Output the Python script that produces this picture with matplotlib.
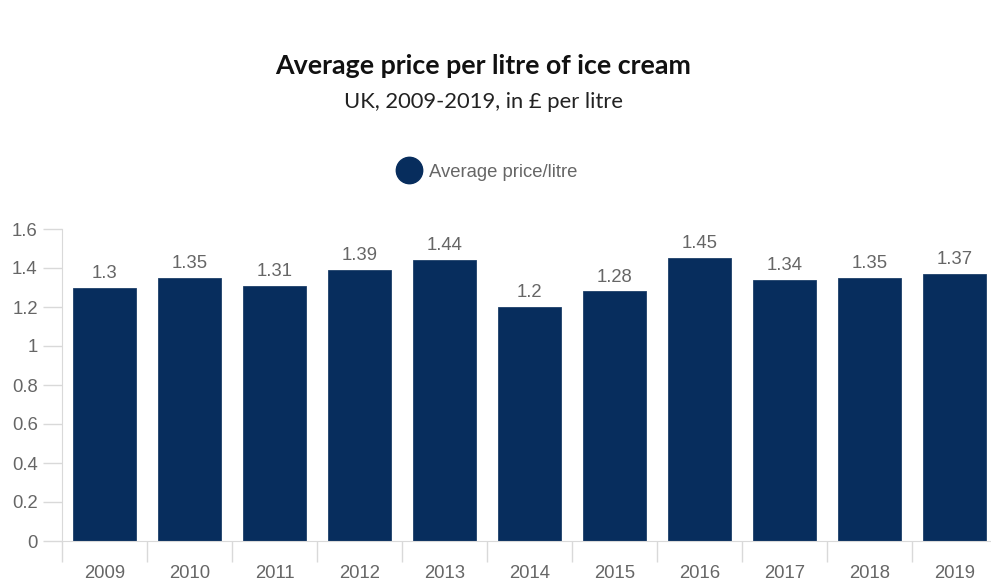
import matplotlib.pyplot as plt
from matplotlib.lines import Line2D

years = ["2009", "2010", "2011", "2012", "2013", "2014", "2015", "2016", "2017", "2018", "2019"]
prices = [1.3, 1.35, 1.31, 1.39, 1.44, 1.2, 1.28, 1.45, 1.34, 1.35, 1.37]
yticks = [0, 0.2, 0.4, 0.6, 0.8, 1, 1.2, 1.4, 1.6]
ytick_labels = ["0", "0.2", "0.4", "0.6", "0.8", "1", "1.2", "1.4", "1.6"]

W, H = 991, 585
fig = plt.figure(figsize=(W / 100, H / 100), dpi=100)
# plot area runs slightly past the right edge of the canvas
ax = fig.add_axes([62 / W, 1 - 541 / H, (997 - 62) / W, (541 - 229) / H])

bar_color = "#072d5d"
grey = "#666666"
axis_grey = "#d9d9d9"
fs = 13.3

x = range(len(years))
ax.bar(x, prices, width=0.73, color=bar_color, edgecolor="#1d3f6a", linewidth=0.6, zorder=2)
for xi, v in zip(x, prices):
    ax.text(xi, v + 0.03, f"{v:g}", ha="center", va="bottom", color=grey,
            fontsize=fs, family="Liberation Sans")

ax.set_xlim(-0.5, len(years) - 0.5)
ax.set_ylim(0, 1.6)
ax.set_yticks(yticks)
ax.set_yticklabels(ytick_labels)
ax.set_xticks(list(x))
ax.set_xticklabels(years)

# category separators below the baseline
ax.set_xticks([i - 0.5 for i in range(len(years) + 1)], minor=True)
ax.tick_params(axis="x", which="major", length=0, pad=17, labelcolor=grey, labelsize=fs)
ax.tick_params(axis="x", which="minor", length=15, color=axis_grey, width=1)
ax.tick_params(axis="y", length=14, color=axis_grey, width=1, pad=3.5, labelcolor=grey, labelsize=fs)
for lbl in ax.get_xticklabels() + ax.get_yticklabels():
    lbl.set_family("Liberation Sans")

for side in ["top", "right"]:
    ax.spines[side].set_visible(False)
ax.spines["left"].set_color(axis_grey)
ax.spines["bottom"].set_color(axis_grey)

fig.text(483 / W, 1 - 66 / H, "Average price per litre of ice cream", ha="center", va="center",
         fontsize=19.3, fontweight="bold", family="Lato", color="#111111")
fig.text(484 / W, 1 - 102 / H, "UK, 2009-2019, in £ per litre", ha="center", va="center",
         fontsize=15.8, family="Lato", color="#222222")

handle = Line2D([], [], marker="o", linestyle="none", markersize=19, markerfacecolor=bar_color,
                markeredgecolor=bar_color)
leg = fig.legend([handle], ["Average price/litre"], loc="center", bbox_to_anchor=(484 / W, 1 - 172 / H),
                 frameon=False, handletextpad=0.1, prop={"family": "Liberation Sans", "size": fs})
for t in leg.get_texts():
    t.set_color(grey)

fig.savefig("out.png", dpi=100)
